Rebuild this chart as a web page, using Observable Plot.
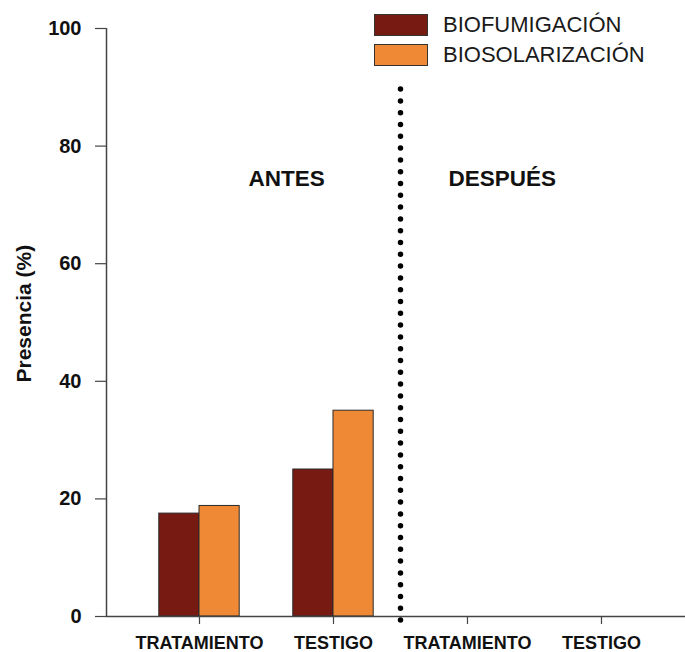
<!DOCTYPE html>
<html>
<head>
<meta charset="utf-8">
<script src="https://cdn.jsdelivr.net/npm/d3@7"></script>
<script src="https://cdn.jsdelivr.net/npm/@observablehq/plot@0.6"></script>
<style>
  html, body { margin: 0; padding: 0; background: #fff; }
  #wrap { position: relative; width: 685px; height: 652px; font-family: "Liberation Sans", Arial, sans-serif; }
  #legend { position: absolute; left: 374px; top: 14px; }
  .row { display: flex; align-items: center; height: 21px; margin-bottom: 9px; }
  .sw { width: 52px; height: 20px; border: 1px solid #333; box-sizing: content-box; }
  .lab { margin-left: 15px; font-size: 22px; color: #1a1a1a; line-height: 21px; }
</style>
</head>
<body>
<div id="wrap"><div id="legend"></div></div>
<script>
// Data
const periods = ["ANTES", "ANTES", "DESPUÉS", "DESPUÉS"];
const groups = ["TRATAMIENTO", "TESTIGO", "TRATAMIENTO", "TESTIGO"];
const series = ["BIOFUMIGACIÓN", "BIOSOLARIZACIÓN"];
const biofumigacion = [17.5, 25, 0, 0];
const biosolarizacion = [18.8, 35, 0, 0];
const yTicks = [0, 20, 40, 60, 80, 100];
const periodNames = ["ANTES", "DESPUÉS"];
const yTitle = "Presencia (%)";
const colors = ["#761a12", "#ef8936"];

const values = [biofumigacion, biosolarizacion];
const rows = [];
groups.forEach((g, i) => {
  series.forEach((s, k) => {
    if (values[k][i] > 0) rows.push({i, k, group: g, period: periods[i], series: s, value: values[k][i]});
  });
});

const half = 0.3;
const xDomain = [-0.694, 3.627];

const chart = Plot.plot({
  width: 685,
  height: 652,
  marginLeft: 106,
  marginRight: 0,
  marginTop: 28,
  marginBottom: 36,
  x: {domain: xDomain},
  y: {domain: [0, 100]},
  color: {domain: series, range: colors},
  style: {fontFamily: "Liberation Sans, Arial, sans-serif", color: "#111", background: "white", overflow: "visible"},
  marks: [
    Plot.rect(rows, {
      x1: d => d.i + (d.k - 1) * half,
      x2: d => d.i + d.k * half,
      y1: 0,
      y2: "value",
      fill: "series",
      stroke: "#2a2a2a",
      strokeWidth: 1
    }),
    Plot.ruleY([0], {stroke: "#444", strokeWidth: 1.5}),
    Plot.ruleX([xDomain[0]], {y1: 0, y2: 100, stroke: "#444", strokeWidth: 1.5}),
    Plot.axisY({ticks: yTicks, tickSize: 11, tickPadding: 14, fontSize: 20, fontWeight: "bold", label: null, stroke: "#444", strokeWidth: 1.2, fill: "#111"}),
    Plot.axisX({ticks: [0, 1, 2, 3], tickFormat: i => groups[i], tickSize: 8, tickPadding: 12, fontSize: 18, fontWeight: "bold", label: null, stroke: "#444", strokeWidth: 1.2, fill: "#111"}),
    Plot.ruleX([1.5], {y1: -0.7, y2: 90.4, stroke: "black", strokeWidth: 5.5, strokeDasharray: "0 11.8", strokeLinecap: "round"}),
    Plot.text(periodNames, {x: [0.65, 2.26], y: [74.5, 74.5], text: d => d, fontSize: 22.5, fontWeight: "bold", fill: "#111"}),
    Plot.text([yTitle], {frameAnchor: "left", textAnchor: "middle", y: [51.5], text: d => d, dx: -82, rotate: -90, fontSize: 21, fontWeight: "bold", fill: "#111"})
  ]
});

document.getElementById("wrap").prepend(chart);

const legend = document.getElementById("legend");
series.forEach((s, k) => {
  const row = document.createElement("div");
  row.className = "row";
  const sw = document.createElement("div");
  sw.className = "sw";
  sw.style.background = colors[k];
  const lab = document.createElement("div");
  lab.className = "lab";
  lab.textContent = s;
  row.append(sw, lab);
  legend.append(row);
});
</script>
</body>
</html>
